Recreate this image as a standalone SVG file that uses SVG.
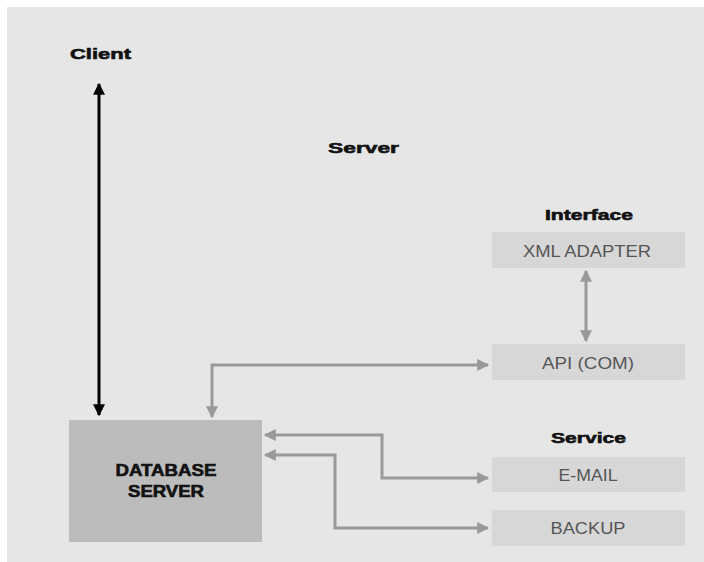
<svg xmlns="http://www.w3.org/2000/svg" width="704" height="562" viewBox="0 0 704 562">
<defs>
<style>
.bg{fill:#e6e6e6}
.box{fill:#d7d7d7}
.db{fill:#bcbcbc}
.lbl{font-family:"Liberation Sans",Arial,sans-serif;font-weight:bold;font-size:15px;fill:#111;stroke:#111;stroke-width:0.6}
.txt{font-family:"Liberation Sans",Arial,sans-serif;font-size:16px;fill:#555;text-anchor:middle}
.dbt{font-family:"Liberation Sans",Arial,sans-serif;font-weight:bold;font-size:16px;fill:#111;stroke:#111;stroke-width:0.6;text-anchor:middle}
.blk{stroke:#000;stroke-width:3;fill:none}
.gry{stroke:#999;stroke-width:3;fill:none}
</style>
<marker id="ab" viewBox="0 0 10 10" refX="9" refY="5" markerWidth="4" markerHeight="4.5" orient="auto-start-reverse" markerUnits="strokeWidth">
<path d="M0,0 L10,5 L0,10 Z" fill="#000"/>
</marker>
<marker id="ag" viewBox="0 0 10 10" refX="9" refY="5" markerWidth="5.5" markerHeight="4" orient="auto-start-reverse" markerUnits="strokeWidth">
<path d="M0,0 L10,5 L0,10 Z" fill="#999"/>
</marker>
</defs>
<rect x="0" y="0" width="704" height="562" fill="#ffffff"/>
<rect class="bg" x="7" y="7" width="697" height="555"/>
<text class="lbl" x="70" y="59" textLength="61" lengthAdjust="spacingAndGlyphs">Client</text>
<text class="lbl" x="328" y="153" textLength="71" lengthAdjust="spacingAndGlyphs">Server</text>
<text class="lbl" x="545" y="220" textLength="88" lengthAdjust="spacingAndGlyphs">Interface</text>
<text class="lbl" x="551" y="443" textLength="75" lengthAdjust="spacingAndGlyphs">Service</text>
<g id="db">
<rect class="db" x="69" y="420" width="193" height="122"/>
<text class="dbt" x="166" y="476" textLength="101" lengthAdjust="spacingAndGlyphs">DATABASE</text>
<text class="dbt" x="166" y="497" textLength="76" lengthAdjust="spacingAndGlyphs">SERVER</text>
</g>
<g id="xml">
<rect class="box" x="492" y="232" width="193" height="36"/>
<text class="txt" x="587" y="257" textLength="128" lengthAdjust="spacingAndGlyphs">XML ADAPTER</text>
</g>
<g id="api">
<rect class="box" x="492" y="344" width="193" height="36"/>
<text class="txt" x="588" y="369" textLength="92" lengthAdjust="spacingAndGlyphs">API (COM)</text>
</g>
<g id="email">
<rect class="box" x="492" y="457" width="193" height="35"/>
<text class="txt" x="588" y="481" textLength="59" lengthAdjust="spacingAndGlyphs">E-MAIL</text>
</g>
<g id="backup">
<rect class="box" x="492" y="510" width="193" height="36"/>
<text class="txt" x="588" y="534" textLength="75" lengthAdjust="spacingAndGlyphs">BACKUP</text>
</g>
<g id="connectors">
<path class="blk" d="M99,84 L99,415" marker-start="url(#ab)" marker-end="url(#ab)"/>
<path class="gry" d="M586,271 L586,341" marker-start="url(#ag)" marker-end="url(#ag)"/>
<path class="gry" d="M212,417 L212,365 L488,365" marker-start="url(#ag)" marker-end="url(#ag)"/>
<path class="gry" d="M265,435 L382,435 L382,478 L488,478" marker-start="url(#ag)" marker-end="url(#ag)"/>
<path class="gry" d="M265,455 L335,455 L335,528 L488,528" marker-start="url(#ag)" marker-end="url(#ag)"/>
</g>
</svg>
